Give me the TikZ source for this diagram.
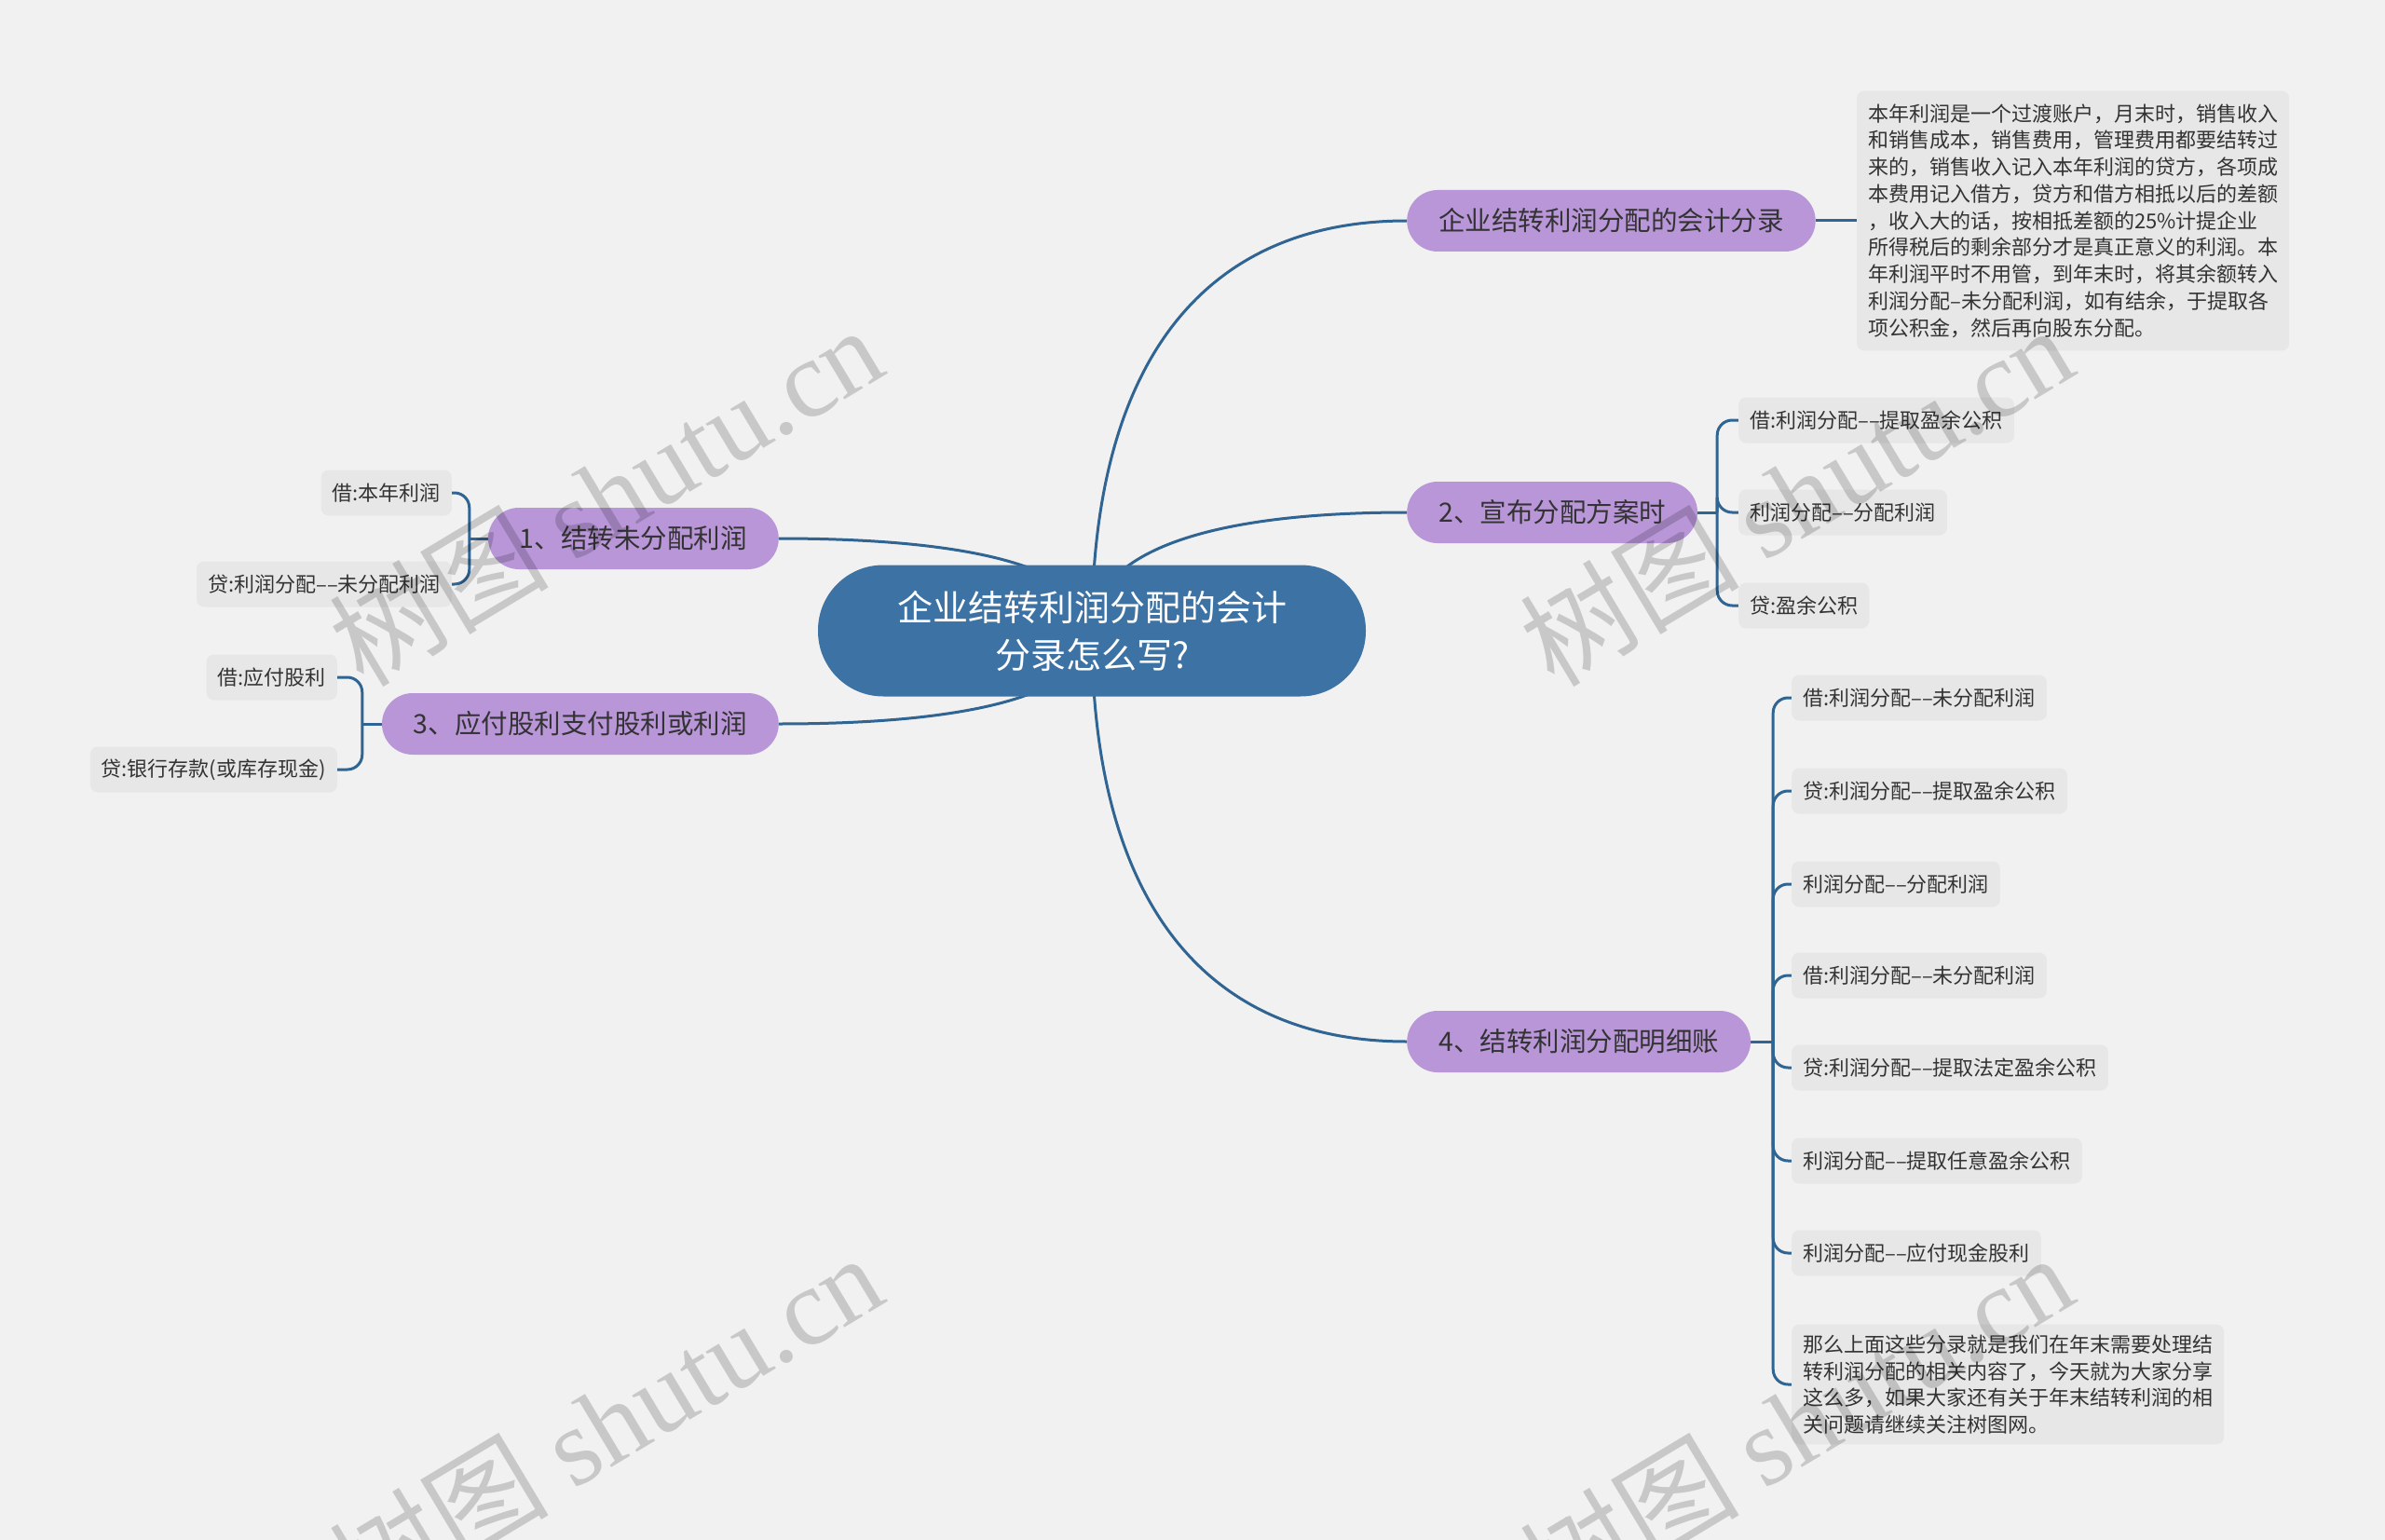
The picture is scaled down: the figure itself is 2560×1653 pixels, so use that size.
\documentclass[tikz,border=0pt]{standalone}
\usepackage{fontspec}
\setmainfont{Noto Sans CJK SC}
\newfontfamily\wmlatin{Liberation Serif}
\usetikzlibrary{calc,backgrounds}
\definecolor{bgc}{HTML}{F1F1F1}
\definecolor{rootc}{HTML}{3D72A4}
\definecolor{purp}{HTML}{B896D8}
\definecolor{leafc}{HTML}{E7E7E7}
\definecolor{linec}{HTML}{2F6493}
\definecolor{txt}{HTML}{333333}
\begin{document}
\begin{tikzpicture}[x=1pt,y=-1pt,
 rootnode/.style={fill=rootc, text=white, rounded corners=70pt, minimum width=588pt, minimum height=141pt, align=center, font=\fontsize{38}{51}\selectfont, inner sep=0pt},
 topic/.style={fill=purp, text=txt, rounded corners=33pt, minimum height=66pt, inner xsep=34pt, inner ysep=0pt, font=\fontsize{28.5}{34}\selectfont},
 leaf/.style={fill=leafc, text=txt, rounded corners=8pt, minimum height=49pt, inner xsep=12pt, inner ysep=0pt, font=\fontsize{22}{28.75}\selectfont},
 para/.style={leaf, align=left, inner ysep=14pt},
 conn/.style={draw=linec, line width=3pt},
 br/.style={conn, rounded corners=16pt},
 wm/.style={text=black, opacity=0.17, rotate=31, inner sep=0pt, font=\fontsize{118}{118}\selectfont}
]
\useasboundingbox (0,0) rectangle (2560,1653);

% central node
\node[rootnode] (root) at (1172,677) {企业结转利润分配的会计\\分录怎么写?};

% main topics
\node[topic, anchor=west] (A) at (1510,237) {企业结转利润分配的会计分录};
\node[topic, anchor=west] (B) at (1510,550) {2、宣布分配方案时};
\node[topic, anchor=west] (E) at (1510,1118) {4、结转利润分配明细账};
\node[topic, anchor=east] (C) at (836,578) {1、结转未分配利润};
\node[topic, anchor=east] (D) at (836,777) {3、应付股利支付股利或利润};

% description of A
\node[para, anchor=west] (desc) at (1993,237) {本年利润是一个过渡账户，月末时，销售收入\\和销售成本，销售费用，管理费用都要结转过\\来的，销售收入记入本年利润的贷方，各项成\\本费用记入借方，贷方和借方相抵以后的差额\\，收入大的话，按相抵差额的25\%计提企业\\所得税后的剩余部分才是真正意义的利润。本\\年利润平时不用管，到年末时，将其余额转入\\利润分配–未分配利润，如有结余，于提取各\\项公积金，然后再向股东分配。};

% leaves of B
\node[leaf, anchor=west] (b1) at (1866,451) {借:利润分配––提取盈余公积};
\node[leaf, anchor=west] (b2) at (1866,550) {利润分配––分配利润};
\node[leaf, anchor=west] (b3) at (1866,650) {贷:盈余公积};

% leaves of C
\node[leaf, anchor=east] (c1) at (485,529) {借:本年利润};
\node[leaf, anchor=east] (c2) at (485,627) {贷:利润分配––未分配利润};

% leaves of D
\node[leaf, anchor=east] (d1) at (362,727) {借:应付股利};
\node[leaf, anchor=east] (d2) at (362,826) {贷:银行存款(或库存现金)};

% leaves of E
\node[leaf, anchor=west] (e1) at (1923,749) {借:利润分配––未分配利润};
\node[leaf, anchor=west] (e2) at (1923,849) {贷:利润分配––提取盈余公积};
\node[leaf, anchor=west] (e3) at (1923,949) {利润分配––分配利润};
\node[leaf, anchor=west] (e4) at (1923,1047) {借:利润分配––未分配利润};
\node[leaf, anchor=west] (e5) at (1923,1146) {贷:利润分配––提取法定盈余公积};
\node[leaf, anchor=west] (e6) at (1923,1246) {利润分配––提取任意盈余公积};
\node[leaf, anchor=west] (e7) at (1923,1345) {利润分配––应付现金股利};
\node[para, anchor=west, inner ysep=11pt] (e8) at (1923,1486) {那么上面这些分录就是我们在年末需要处理结\\转利润分配的相关内容了，今天就为大家分享\\这么多，如果大家还有关于年末结转利润的相\\关问题请继续关注树图网。};

\begin{pgfonlayer}{background}
\fill[bgc] (0,0) rectangle (2560,1653);
% root connectors
\foreach \t in {A,B,E}{
  \draw[conn] (root.center) .. controls ($(root.center)!0.65!(root.center|-\t.west)$) and ($(\t.west)!0.65!(\t.west-|root.center)$) .. (\t.west);
}
\foreach \t in {C,D}{
  \draw[conn] (root.center) .. controls ($(root.center)!0.65!(root.center|-\t.east)$) and ($(\t.east)!0.65!(\t.east-|root.center)$) .. (\t.east);
}
% A to description
\draw[conn] (A.east) -- (desc.west);
% B brackets
\draw[conn] (B.east) -- ++(21,0) coordinate (bB);
\foreach \n in {b1,b2,b3}{\draw[br] (bB) |- (\n.west);}
% E brackets
\draw[conn] (E.east) -- ++(24,0) coordinate (bE);
\foreach \n in {e1,e2,e3,e4,e5,e6,e7,e8}{\draw[br] (bE) |- (\n.west);}
% C brackets
\draw[conn] (C.west) -- ++(-20,0) coordinate (bC);
\foreach \n in {c1,c2}{\draw[br] (bC) |- (\n.east);}
% D brackets
\draw[conn] (D.west) -- ++(-21,0) coordinate (bD);
\foreach \n in {d1,d2}{\draw[br] (bD) |- (\n.east);}
\end{pgfonlayer}

% watermarks
\node[wm] (w1) at (650,531) {树图 {\wmlatin shutu.cn}};
\node[wm] (w2) at (1928,531) {树图 {\wmlatin shutu.cn}};
\node[wm] (w3) at (650,1527) {树图 {\wmlatin shutu.cn}};
\node[wm] (w4) at (1928,1527) {树图 {\wmlatin shutu.cn}};
\end{tikzpicture}
\end{document}
